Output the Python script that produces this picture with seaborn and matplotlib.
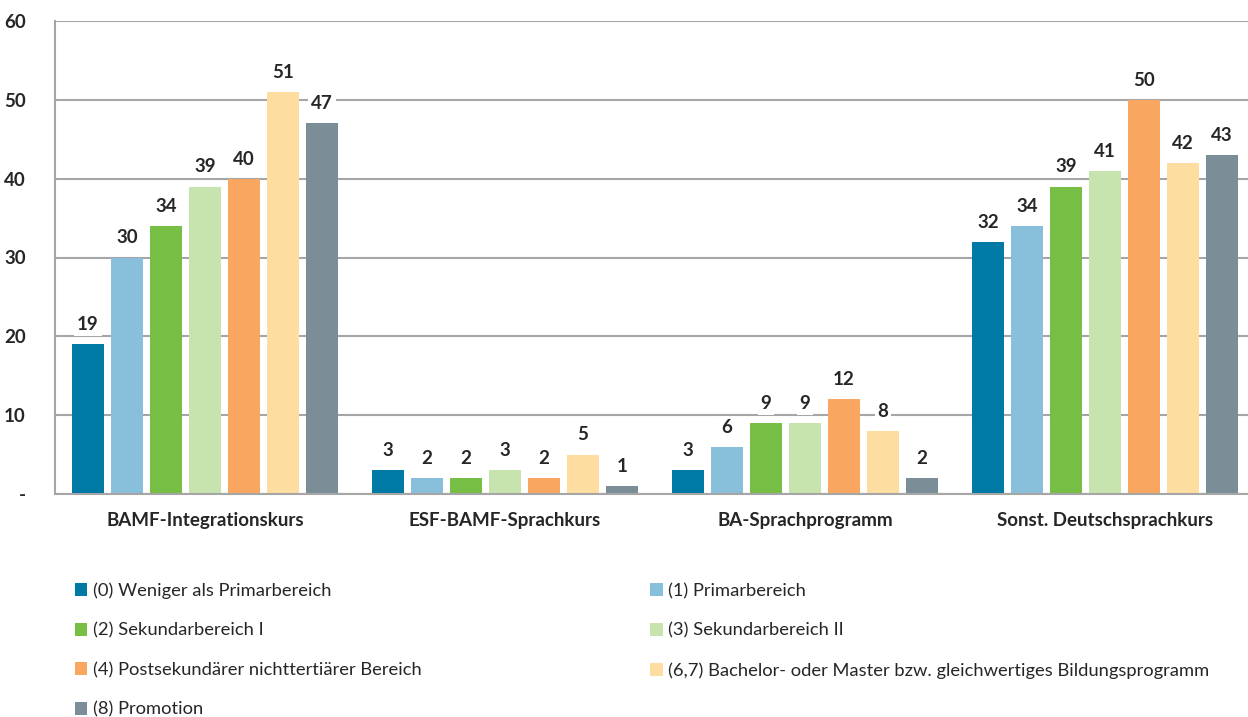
import matplotlib
matplotlib.use("Agg")
import matplotlib.pyplot as plt
import seaborn as sns
import pandas as pd
from matplotlib.patches import Patch

categories = ["BAMF-Integrationskurs", "ESF-BAMF-Sprachkurs", "BA-Sprachprogramm", "Sonst. Deutschsprachkurs"]
series = ["(0) Weniger als Primarbereich", "(1) Primarbereich", "(2) Sekundarbereich I",
          "(3) Sekundarbereich II", "(4) Postsekundärer nichttertiärer Bereich",
          "(6,7) Bachelor- oder Master bzw. gleichwertiges Bildungsprogramm", "(8) Promotion"]
values = {
    "(0) Weniger als Primarbereich": [19, 3, 3, 32],
    "(1) Primarbereich": [30, 2, 6, 34],
    "(2) Sekundarbereich I": [34, 2, 9, 39],
    "(3) Sekundarbereich II": [39, 3, 9, 41],
    "(4) Postsekundärer nichttertiärer Bereich": [40, 2, 12, 50],
    "(6,7) Bachelor- oder Master bzw. gleichwertiges Bildungsprogramm": [51, 5, 8, 42],
    "(8) Promotion": [47, 1, 2, 43],
}
colors = ["#0079a5", "#88bfda", "#76bf44", "#c7e3ae", "#f8a660", "#fddea0", "#7b8d97"]
yticks = [0, 10, 20, 30, 40, 50, 60]
ytick_labels = ["-", "10", "20", "30", "40", "50", "60"]

rows = []
for s in series:
    for c, v in zip(categories, values[s]):
        rows.append({"Kurs": c, "Bildung": s, "Wert": v})
df = pd.DataFrame(rows)

sns.set_style("white")
plt.rcParams["font.family"] = ["Lato", "DejaVu Sans"]

fig = plt.figure(figsize=(12.48, 7.17), dpi=100)
ax = fig.add_axes([55 / 1248, 1 - 494 / 717, 1 - 55 / 1248, (494 - 21) / 717])

sns.barplot(data=df, x="Kurs", y="Wert", hue="Bildung", order=categories, hue_order=series,
            palette=colors, width=0.91, gap=0.18, ax=ax, legend=False, saturation=1,
            edgecolor="none")

ax.set_ylim(0, 60)
ax.set_xlim(-0.5, 3.477)
ax.set_yticks(yticks)
ax.set_yticklabels(ytick_labels, fontsize=13.5, fontweight="bold")
ax.yaxis.grid(True, color="#a6a6a6", linewidth=1.5)
ax.set_axisbelow(True)
ax.set_xlabel("")
ax.set_ylabel("")
ax.tick_params(axis="x", length=0, pad=13, labelsize=13.5)
ax.tick_params(axis="y", length=0, pad=21)
for lab in ax.get_xticklabels():
    lab.set_fontweight("bold")
for side in ["top", "right"]:
    ax.spines[side].set_visible(False)
for side in ["left", "bottom"]:
    ax.spines[side].set_color("#a6a6a6")
    ax.spines[side].set_linewidth(1.5)

for cont in ax.containers:
    ax.bar_label(cont, padding=8, fontsize=13.5, fontweight="bold",
                 bbox=dict(facecolor="white", edgecolor="none", pad=2))

handles = [Patch(facecolor=c, edgecolor="none") for c in colors]
order = [0, 2, 4, 6, 1, 3, 5]
leg = fig.legend([handles[i] for i in order], [series[i] for i in order], ncol=2,
                 loc="upper left", bbox_to_anchor=(58 / 1248, 1 - 566 / 717),
                 frameon=False, fontsize=13.2, handlelength=0.7, handleheight=0.7,
                 handletextpad=0.3, labelspacing=1.28, columnspacing=12.45)

fig.savefig("out.png", dpi=100)
